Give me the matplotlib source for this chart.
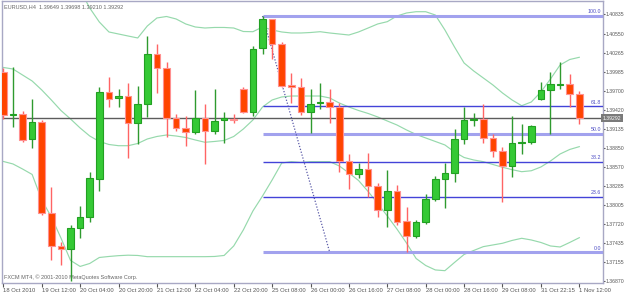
import numpy as np
import matplotlib
matplotlib.use('Agg')
import matplotlib.pyplot as plt
import matplotlib.transforms as mtransforms

# EURUSD H4 bars (oldest first)
opens = [1.39984, 1.39346, 1.39352, 1.38980, 1.39234, 1.37890, 1.37396, 1.37356, 1.37663, 1.37822,
         1.38386, 1.39678, 1.39589, 1.39623, 1.39218, 1.39500, 1.40252, 1.40035, 1.39301, 1.39153,
         1.39084, 1.39292, 1.39108, 1.39263, 1.39282, 1.39732, 1.39381, 1.40332, 1.40762, 1.40396,
         1.39787, 1.39753, 1.39381, 1.39515, 1.39534, 1.39465, 1.38663, 1.38461, 1.38539, 1.38291,
         1.37930, 1.38217, 1.37767, 1.37549, 1.37748, 1.38094, 1.38386, 1.38484, 1.38980, 1.39263,
         1.39282, 1.38995, 1.38811, 1.38588, 1.38921, 1.38936, 1.39579, 1.39713, 1.39791, 1.39802,
         1.39649]
highs = [1.40039, 1.40054, 1.39396, 1.39576, 1.39267, 1.38268, 1.37451, 1.37708, 1.37994, 1.38490,
         1.39762, 1.39910, 1.39732, 1.39812, 1.39772, 1.40514, 1.40391, 1.40124, 1.39352, 1.39326,
         1.39713, 1.39500, 1.39727, 1.39381, 1.39352, 1.39750, 1.40366, 1.40811, 1.40774, 1.40430,
         1.39969, 1.39886, 1.39723, 1.39821, 1.39727, 1.39515, 1.38762, 1.38624, 1.38772, 1.38336,
         1.38524, 1.38302, 1.37971, 1.37782, 1.38168, 1.38440, 1.38633, 1.39133, 1.39465, 1.39366,
         1.39505, 1.39055, 1.38862, 1.39326, 1.39203, 1.39193, 1.39836, 1.39975, 1.40124, 1.39950,
         1.39698]
lows = [1.39277, 1.39168, 1.38945, 1.38847, 1.37856, 1.37188, 1.37114, 1.36876, 1.37510, 1.37748,
        1.38217, 1.39465, 1.39456, 1.38698, 1.38911, 1.39316, 1.39664, 1.39019, 1.39104, 1.38881,
        1.39059, 1.38609, 1.39059, 1.38930, 1.39218, 1.39371, 1.39326, 1.40243, 1.40168, 1.39753,
        1.39515, 1.39341, 1.39070, 1.39426, 1.39218, 1.38499, 1.38238, 1.38410, 1.38128, 1.37822,
        1.37682, 1.37708, 1.37302, 1.37510, 1.37718, 1.38069, 1.37956, 1.38351, 1.38911, 1.39182,
        1.38930, 1.38713, 1.38045, 1.38416, 1.38762, 1.38911, 1.39570, 1.39059, 1.39723, 1.39456,
        1.39210]
closes = [1.39346, 1.39356, 1.38975, 1.39237, 1.37890, 1.37396, 1.37356, 1.37660, 1.37822, 1.38401,
          1.39678, 1.39579, 1.39623, 1.39218, 1.39500, 1.40252, 1.40035, 1.39301, 1.39153, 1.39084,
          1.39292, 1.39108, 1.39257, 1.39292, 1.39271, 1.39381, 1.40321, 1.40762, 1.40396, 1.39776,
          1.39753, 1.39381, 1.39500, 1.39534, 1.39465, 1.38663, 1.38465, 1.38539, 1.38291, 1.37930,
          1.38217, 1.37757, 1.37549, 1.37748, 1.38094, 1.38386, 1.38475, 1.38980, 1.39267, 1.39282,
          1.38995, 1.38811, 1.38588, 1.38930, 1.38945, 1.39178, 1.39713, 1.39797, 1.39802, 1.39653,
          1.39292]

# bollinger bands as drawn on the chart
bb_upper = [1.41940, 1.41910, 1.41866, 1.41792, 1.41717, 1.41643, 1.41524, 1.41376, 1.41198, 1.40930,
            1.40722, 1.40574, 1.40544, 1.40514, 1.40485, 1.40663, 1.40782, 1.40804, 1.40767, 1.40693,
            1.40648, 1.40633, 1.40641, 1.40641, 1.40633, 1.40581, 1.40578, 1.40648, 1.40604, 1.40574,
            1.40559, 1.40559, 1.40566, 1.40578, 1.40559, 1.40544, 1.40529, 1.40574, 1.40633, 1.40693,
            1.40727, 1.40811, 1.40856, 1.40875, 1.40875, 1.40826, 1.40604, 1.40351, 1.40113, 1.39995,
            1.39891, 1.39787, 1.39668, 1.39564, 1.39479, 1.39534, 1.39683, 1.39876, 1.40084, 1.40165,
            1.40198]
bb_mid = [1.40047, 1.40024, 1.39935, 1.39846, 1.39713, 1.39564, 1.39408, 1.39282, 1.39148, 1.39029,
          1.38948, 1.38903, 1.38885, 1.38885, 1.38918, 1.38985, 1.39022, 1.39044, 1.39029, 1.39007,
          1.38970, 1.38936, 1.38948, 1.38963, 1.39022, 1.39133, 1.39267, 1.39460, 1.39564, 1.39609,
          1.39623, 1.39623, 1.39623, 1.39623, 1.39594, 1.39519, 1.39460, 1.39408, 1.39364, 1.39312,
          1.39252, 1.39193, 1.39119, 1.39052, 1.39000, 1.38948, 1.38896, 1.38792, 1.38710, 1.38673,
          1.38648, 1.38606, 1.38565, 1.38529, 1.38499, 1.38513, 1.38569, 1.38658, 1.38762, 1.38829,
          1.38871]
bb_lower = [1.38651, 1.38614, 1.38539, 1.38458, 1.38079, 1.37827, 1.37515, 1.37181, 1.37092, 1.37136,
            1.37225, 1.37240, 1.37252, 1.37259, 1.37255, 1.37237, 1.37237, 1.37237, 1.37237, 1.37237,
            1.37237, 1.37237, 1.37240, 1.37255, 1.37396, 1.37634, 1.37916, 1.38138, 1.38376, 1.38628,
            1.38648, 1.38636, 1.38648, 1.38648, 1.38648, 1.38584, 1.38480, 1.38369, 1.38205, 1.38027,
            1.37841, 1.37648, 1.37440, 1.37210, 1.37106, 1.37040, 1.37029, 1.37151, 1.37270, 1.37329,
            1.37386, 1.37411, 1.37436, 1.37478, 1.37510, 1.37485, 1.37448, 1.37396, 1.37381, 1.37448,
            1.37519]

time_labels = ['18 Oct 2010', '19 Oct 12:00', '20 Oct 04:00', '20 Oct 20:00', '21 Oct 12:00',
               '22 Oct 04:00', '22 Oct 20:00', '25 Oct 08:00', '26 Oct 00:00', '26 Oct 16:00',
               '27 Oct 08:00', '28 Oct 00:00', '28 Oct 16:00', '29 Oct 08:00', '31 Oct 22:15',
               '1 Nov 12:00']
price_ticks = [1.40835, 1.40550, 1.40265, 1.39985, 1.39700, 1.39420, 1.39135, 1.38850,
               1.38570, 1.38285, 1.38005, 1.37720, 1.37435, 1.37155, 1.36870]

# fibo retracement anchors (bar index, price)
fib_start, fib_high = 27, 1.40811
fib_end, fib_low = 34, 1.37302
fib_levels = [0.0, 23.6, 38.2, 50.0, 61.8, 100.0]

plt.rcParams['font.family'] = ['Liberation Sans', 'DejaVu Sans']
txt_col = '#555555'

fig = plt.figure(figsize=(6.25, 2.94), dpi=100)
ax = fig.add_axes([2/625, 11/294, 601/625, 282/294])
x_max = 62.47

x = np.arange(len(opens))
o = np.array(opens)
h = np.array(highs)
l = np.array(lows)
c = np.array(closes)
up = c >= o

# bands
band_col = '#96d9ac'
ax.plot(x, bb_upper, color=band_col, lw=0.85, zorder=2)
ax.plot(x, bb_mid, color=band_col, lw=0.85, zorder=2)
ax.plot(x, bb_lower, color=band_col, lw=0.85, zorder=2)

# bid line
ax.axhline(c[-1], color='#5c5c5c', lw=1, zorder=2)

# fibonacci
for lev in fib_levels:
    p = fib_low + (fib_high - fib_low) * lev / 100
    if lev in (0.0, 50.0, 100.0):
        ax.hlines(p, fib_start, x_max, color='#a2a2ee', lw=2.2, zorder=3)
    else:
        ax.hlines(p, fib_start, x_max, color='#4343d8', lw=1, zorder=3)
    ax.annotate('%.1f' % lev, (62.26, p), xytext=(0, 1.2), textcoords='offset points',
                ha='right', va='bottom', fontsize=3.8, color='#4a4ac4', zorder=6)
ax.plot([fib_start, fib_end], [fib_high, fib_low], color='#5a5aa8', lw=0.9,
        ls=(0, (1, 1.4)), zorder=3)

# candles
ax.vlines(x[up], l[up], h[up], color='#2f9a2f', lw=1, zorder=4)
ax.vlines(x[~up], l[~up], h[~up], color='#ff6464', lw=1, zorder=4)
ax.bar(x[up], c[up] - o[up], bottom=o[up], width=0.68, color='#35c935',
       edgecolor='#22a022', lw=0.8, zorder=5)
ax.bar(x[~up], o[~up] - c[~up], bottom=c[~up], width=0.68, color='#ff4400',
       edgecolor='#ff9090', lw=0.8, zorder=5)

ax.set_xlim(-0.14, x_max)
ax.set_ylim(1.36846, 1.41034)

ax.yaxis.tick_right()
ax.set_yticks(price_ticks)
ax.set_yticklabels(['%.5f' % p for p in price_ticks])
ax.set_xticks(np.arange(0, len(opens), 4))
ax.set_xticklabels(time_labels)
for lbl in ax.get_xticklabels():
    lbl.set_ha('left')
ax.tick_params(axis='y', direction='out', length=1.5, width=0.8, pad=0.6,
               labelsize=3.7, colors=txt_col)
ax.tick_params(axis='x', direction='out', length=3, width=0.8, pad=0.8,
               labelsize=4.2, colors=txt_col)
for s in ax.spines.values():
    s.set_color('#a8a8c4')
    s.set_linewidth(1)

# texts
ax.text(1.0, c[-1], '%.5f' % c[-1], transform=mtransforms.blended_transform_factory(ax.transAxes, ax.transData),
        ha='left', va='center', fontsize=3.7, color='white', clip_on=False, zorder=7,
        bbox=dict(boxstyle='square,pad=0.3', fc='#7a7a7a', ec='none'))
fig.text(4/625, 1 - 7/294, 'EURUSD,H4  %.5f %.5f %.5f %.5f' % (o[-1], h[-1], l[-1], c[-1]),
         va='center', ha='left', fontsize=4.0, color='#666666')
ax.text(0.003, 0.02, 'FXCM MT4, \u00a9 2001-2010 MetaQuotes Software Corp.', transform=ax.transAxes,
        va='center', ha='left', fontsize=4.0, color='#666666')

fig.savefig('out.png', dpi=100)
